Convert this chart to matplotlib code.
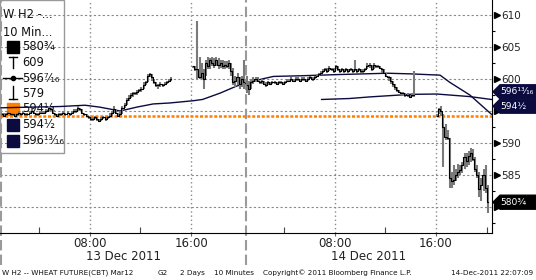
import matplotlib
matplotlib.use('Agg')
import matplotlib.pyplot as plt
import matplotlib.transforms as mtransforms
from matplotlib.patches import Rectangle, Polygon
from matplotlib.lines import Line2D

# ---------------- data ----------------
SESSION_OPEN = 1.0            # 01:00 session start (hours)
SESSION_LEN = 19 + 1 / 3.0    # 01:00 -> 20:20
BAR_H = 1 / 6.0               # 10-minute bars

def sx(day, hour):
    """session-compressed x coordinate"""
    return day * SESSION_LEN + hour - SESSION_OPEN

# segment start times (day index, clock hour)
segA_start = (0, 1 + 5 / 60)
segB_start = (0, 16 + 10 / 60)
segC_start = (1, 1 + 5 / 60)
segD_start = (1, 16 + 5 / 60)

segA_close = [594.5, 594.25, 594.5, 594.75, 594.5, 594.5, 594.25, 594.5, 594.75, 594.5,
              594.75, 594.5, 594.5, 594.75, 595, 594.75, 594.5, 594.5, 594.75, 594.75,
              594.75, 595, 595.5, 595.25, 594.75, 594.5, 594.25, 594.5, 594.5, 594.75,
              594.5, 594.75, 594.5, 594.75, 595, 595, 595.5, 595.25, 594.75, 594.5,
              594.25, 594, 593.75, 593.75, 594, 593.75, 593.5, 593.75, 594, 593.75,
              594, 594.25, 594.75, 595.25, 594.75, 594.25,
              594.5, 595.5, 596, 596.75,
              597, 597.5, 597.75, 597.75, 598,
              598.25, 598.5, 599, 599.5, 600.5,
              600.75, 600.25, 599.5, 599, 599,
              599.25, 599, 599.25, 599.5, 599.75, 600]
segA_high = [594.75, 594.75, 594.75, 595, 594.75, 594.75, 594.5, 594.75, 595, 594.75,
             595, 594.75, 594.75, 595, 595.25, 595, 594.75, 594.75, 595, 595,
             595, 595.25, 595.75, 595.5, 595.25, 594.75, 594.5, 594.75, 594.75, 595,
             594.75, 595, 594.75, 595, 595.25, 595.25, 595.75, 595.5, 595.25, 594.75,
             594.5, 594.25, 594, 594, 594.25, 594, 593.75, 594, 594.25, 594,
             594.25, 594.75, 595, 595.75, 595.25, 594.75,
             595, 595.75, 596.25, 597,
             597.5, 597.75, 598, 598, 598.25,
             598.5, 598.75, 599.5, 599.75, 600.75,
             601, 600.75, 600, 599.5, 599.25,
             599.5, 599.25, 599.5, 599.75, 600, 600.25]
segA_low = [594.25, 594, 594.25, 594.5, 594.25, 594.25, 594, 594.25, 594.5, 594.25,
            594.5, 594.25, 594.25, 594.5, 594.75, 594.5, 594.25, 594.25, 594.5, 594.5,
            594.5, 594.75, 595, 595, 594.5, 594.25, 594, 594.25, 594.25, 594.5,
            594.25, 594.5, 594.25, 594.5, 594.75, 594.75, 595, 595, 594.5, 594.25,
            594, 593.75, 593.5, 593.5, 593.75, 593.5, 593.25, 593.5, 593.75, 593.5,
            593.75, 594, 594.25, 594.75, 594.5, 594,
            594.25, 594.5, 595.5, 596,
            596.5, 597, 597.25, 597.5, 597.5,
            598, 598, 598.5, 599, 599.5,
            600.25, 599.75, 599.25, 598.75, 598.5,
            598.75, 598.75, 599, 599.25, 599.5, 599.75]

segB_close = [602, 601.5, 601.5, 600.25, 601, 600, 602.5, 602, 603, 602.5, 602.25, 603,
              602.25, 602.5, 602, 602.25, 602, 602.5, 601.25, 599.5, 599.75, 600.25,
              599.25, 600, 599.5]
segB_high = [602, 602, 609, 603.5, 602.5, 601.5, 603, 603.5, 603.25, 603.5, 603.25, 603.5,
             603.25, 603, 603, 602.75, 602.75, 603, 602.5, 601.75, 600.5, 601,
             600.25, 600.5, 603]
segB_low = [601.75, 601.25, 600, 600, 600, 598.5, 600.5, 601.5, 601.5, 602, 601.75, 602,
            601.5, 601.75, 601.5, 601.5, 601.75, 601.5, 600.5, 599, 598.75, 599,
            598.5, 598.75, 598.5]

segC_close = [599, 598.5, 599.5, 599.75,
              600, 599.75, 599.5, 599.75,
              599.25, 599, 599.5, 599.25, 599.5,
              599.5, 599.25, 599.5, 599.5, 599.25, 599.5, 599.75,
              599.75, 600, 599.75, 600, 600, 599.75, 600,
              600, 599.75, 600, 600.25, 600,
              600.25, 600.5, 600.75,
              601, 601.25, 601.5,
              601.25, 601.75, 601.5, 601.25, 602, 601.5, 601.25,
              601.5, 601.25, 601.5, 601.25, 601.5, 601.25,
              601.5,
              601.25, 601.5, 601.25, 601.25, 601.5,
              602, 602.25, 601.5, 602.25, 602,
              602, 601.75, 601.5, 601,
              600.5, 600.25, 599.75,
              599.25, 598.75, 598.25,
              598, 597.75, 597.75, 597.5,
              597.5, 597.25, 597.5, 597.5]
segC_high = [600.5, 599.75, 600, 600.25,
             600.25, 600.25, 599.75, 600,
             599.75, 599.5, 599.75, 599.5, 599.75,
             599.75, 599.5, 599.75, 599.75, 599.5, 599.75, 600,
             600, 600.25, 600, 600.25, 600.25, 600, 600.25,
             600.25, 600, 600.25, 600.5, 600.25,
             600.5, 600.75, 601,
             601.25, 601.5, 601.75,
             601.75, 602, 601.75, 601.75, 602.25, 602, 601.5,
             601.75, 601.5, 601.75, 601.5, 601.75, 601.5,
             603,
             601.5, 601.75, 601.5, 601.5, 601.75,
             602.5, 602.5, 602.25, 602.5, 602.25,
             602.25, 602, 601.75, 601.5,
             601, 600.5, 600.25,
             599.75, 599.25, 598.75,
             598.25, 598, 598, 597.75,
             597.75, 597.5, 597.75, 601.25]
segC_low = [597.75, 597.5, 598.5, 599.25,
            599.5, 599.5, 599.25, 599.25,
            599, 598.75, 599, 599, 599.25,
            599.25, 599, 599.25, 599.25, 599, 599.25, 599.5,
            599.5, 599.75, 599.5, 599.75, 599.75, 599.5, 599.75,
            599.75, 599.5, 599.75, 600, 599.75,
            600, 600.25, 600.5,
            600.75, 601, 601.25,
            601, 601.25, 601.25, 601, 601.5, 601.25, 601,
            601.25, 601, 601.25, 601, 601.25, 601,
            601.25,
            601, 601.25, 601, 601, 601.25,
            601.5, 601.75, 601.25, 601.5, 601.75,
            601.75, 601.5, 601, 600.75,
            600.25, 599.75, 599.25,
            598.75, 598.25, 598,
            597.75, 597.5, 597.5, 597.25,
            597.25, 597, 597.25, 597.25]

segD_close = [594.25, 595.25, 595, 592.5, 591, 590.75, 584.5, 584, 584.25, 585, 585.5,
              585.75, 586.5, 587.75, 587.25, 588, 588.5, 587.5, 586, 585, 582.75, 583.5,
              585, 583, 580.75]
segD_high = [594.5, 595.5, 595.75, 594.5, 593, 592, 590.75, 585.5, 586.5, 586, 586.75,
             586.5, 587, 588.5, 588.5, 588.75, 589.25, 589, 587.75, 586.5, 585.5, 584.5,
             586, 586.5, 583.5]
segD_low = [594, 594.5, 594.25, 586.25, 590.5, 590.5, 583, 583, 583.5, 584, 584.5,
            585, 585.25, 586, 586.25, 586.5, 587, 587.25, 585.5, 584.5, 581.5, 581,
            582.5, 582.25, 579]

# moving averages (session x, value)
ma1_x = [0.0, 2.29, 4.66, 6.63, 7.8, 9.4, 10.7, 12.0, 13.3, 15.15, 15.9, 17.3, 18.6,
         19.65, 20.6, 21.5, 23.6, 26.75, 30.5, 32.3, 34.65, 35.4, 37.0, 38.7]
ma1_v = [595.5, 595.6, 595.7, 595.9, 595.6, 595.0, 595.6, 596.1, 596.25, 596.6, 596.8,
         597.8, 598.9, 599.5, 600.0, 600.4, 600.5, 600.7, 600.9, 600.8, 600.6, 599.5,
         597.5, 594.5]
ma2_x = [25.3, 27.5, 29.1, 32.3, 34.4, 37.0, 38.7]
ma2_v = [596.8, 596.95, 597.2, 597.6, 597.65, 597.25, 596.8]

prev_settle = 594.25

legend_title = ["W H2 -...", "10 Min..."]
legend_vals = ["580¾", "609", "596⁷⁄₁₆", "579", "594¼", "594½", "596¹³⁄₁₆"]

last_labels = ["596¹³⁄₁₆", "594½", "580¾"]
last_label_y = [598.0, 595.75, 580.75]

xtick_pos = [sx(0, 8), sx(0, 16), sx(1, 8), sx(1, 16)]
xtick_lab = ["08:00", "16:00", "08:00", "16:00"]
xminor_pos = [sx(0, 4), sx(0, 12), sx(1, 4), sx(1, 12), sx(1, 20)]
day_labels = ["13 Dec 2011", "14 Dec 2011"]
ytick_vals = [580, 585, 590, 595, 600, 605, 610]
ytick_text = ["", "585", "590", "", "600", "605", "610"]   # 580 / 595 hidden by value boxes

footer = [("W H2 -- WHEAT FUTURE(CBT) Mar12", 2), ("G2", 158), ("2 Days", 180),
          ("10 Minutes", 214), ("Copyright© 2011 Bloomberg Finance L.P.", 263)]
footer_right = "14-Dec-2011 22:07:09"

# ---------------- figure ----------------
W, H = 536, 280
fig = plt.figure(figsize=(W / 100, H / 100), dpi=100)
AX_R, AX_B = 492, 233
ax = fig.add_axes([0, 1 - AX_B / H, AX_R / W, AX_B / H])
ax.set_xlim(sx(0, 0 + 55 / 60), sx(1, 20 + 25 / 60))
ax.set_ylim(575.94, 612.34)
ax.set_axisbelow(True)

NAVY = '#0b0b40'
GRID = '#8a8a8a'

def axp(px, py):
    return (px / AX_R, 1 - py / AX_B)

# legend box (beneath the grid and data)
ax.add_patch(Rectangle(axp(0, 153), 64 / AX_R, 153 / AX_B, transform=ax.transAxes,
                       fc='white', ec='#999999', lw=1.0, zorder=0.2, clip_on=False))
rows = [15, 32, 47, 62, 78, 93, 109, 125, 141]
for i, t in enumerate(legend_title):
    ax.text(*axp(3, rows[i]), t, transform=ax.transAxes, fontsize=8.3, va='center',
            ha='left', color='#111', zorder=0.7)
for i, t in enumerate(legend_vals):
    ax.text(*axp(22, rows[i + 2]), t, transform=ax.transAxes, fontsize=8.3,
            va='center', ha='left', color='#111', zorder=0.7)
sq = [(2, 'black'), (6, '#ff7f00'), (7, NAVY), (8, NAVY)]
for r, c in sq:
    ax.add_patch(Rectangle(axp(7, rows[r] + 6), 12 / AX_R, 12 / AX_B,
                           transform=ax.transAxes, fc=c, ec=c, zorder=0.7))
def lline(p0, p1, **kw):
    a, b = axp(*p0), axp(*p1)
    ax.add_line(Line2D([a[0], b[0]], [a[1], b[1]], transform=ax.transAxes,
                       color='black', lw=1, zorder=0.7, **kw))
lline((13, 57), (13, 68)); lline((9, 57), (17, 57))
lline((3, 78), (22, 78))
ax.plot(*axp(13, 78), marker='o', ms=3, color='black', transform=ax.transAxes, zorder=0.7)
lline((13, 86), (13, 99)); lline((9, 99), (17, 99))

# grid
ax.set_yticks(ytick_vals)
ax.yaxis.grid(True, linestyle=(0, (2, 2)), color=GRID, lw=0.8)
for xp in xtick_pos:
    ax.axvline(xp, linestyle=(0, (1, 2)), color=GRID, lw=1.0, zorder=0.5)
for d in (0, 1):
    ax.axvline(sx(d, SESSION_OPEN), ymin=-0.137, ymax=1, linestyle=(0, (5, 2)),
               color='#9a9a9a', lw=1.5, zorder=0.6, clip_on=False)

# previous settle
ax.axhline(prev_settle, color='#ff7f00', lw=1.8, linestyle=(0, (1.2, 0.7)), zorder=2)

# moving averages
ax.plot(ma1_x, ma1_v, color=NAVY, lw=1.0, zorder=2.5)
ax.plot(ma2_x, ma2_v, color=NAVY, lw=1.0, zorder=2.5)

# price bars
for start, c, h, l in [(segA_start, segA_close, segA_high, segA_low),
                       (segB_start, segB_close, segB_high, segB_low),
                       (segC_start, segC_close, segC_high, segC_low),
                       (segD_start, segD_close, segD_high, segD_low)]:
    x0 = sx(*start)
    xs = [x0 + i * BAR_H for i in range(len(c))]
    ax.vlines(xs, l, h, color='#7a7a7a', lw=1.5, zorder=3)
    ax.step(xs, c, where='mid', color='black', lw=0.8, zorder=4)

# axes styling
for s in ('left', 'top'):
    ax.spines[s].set_visible(False)
ax.spines['right'].set_color('black')
ax.spines['bottom'].set_color('black')
ax.yaxis.tick_right()
ax.set_yticklabels(ytick_text)
ax.yaxis.set_minor_locator(matplotlib.ticker.MultipleLocator(2.5))
ax.tick_params(axis='y', which='major', length=0, pad=6.5, labelsize=7.5, labelcolor='#222')
ax.tick_params(axis='y', which='minor', length=2.5, width=0.8, color='black')
trans_y = mtransforms.blended_transform_factory(ax.transAxes, ax.transData)
ax.plot([1.0105] * len(ytick_vals), ytick_vals, linestyle='none', marker='>', ms=4,
        color='black', transform=trans_y, clip_on=False, zorder=5)

ax.set_xticks(xtick_pos)
ax.set_xticklabels(xtick_lab)
ax.set_xticks(xminor_pos, minor=True)
ax.tick_params(axis='x', which='major', length=2.5, pad=0.5, labelsize=8.5,
               labelcolor='#222', color='#666', direction='out')
ax.tick_params(axis='x', which='minor', length=4, width=0.8, color='#444', direction='in')

xt = ax.get_xaxis_transform()
ax.text((sx(0, SESSION_OPEN) + sx(1, SESSION_OPEN)) / 2, -0.1, day_labels[0],
        transform=xt, ha='center', va='center', fontsize=8.5, color='#222')
ax.text((sx(1, SESSION_OPEN) + sx(1, 20 + 25 / 60)) / 2, -0.1, day_labels[1],
        transform=xt, ha='center', va='center', fontsize=8.5, color='#222')

# last-value labels: arrow-shaped boxes drawn in figure pixels
colors = [NAVY, NAVY, 'black']
for t, y, c in zip(last_labels, last_label_y, colors):
    yc = H - ax.transData.transform((0, y))[1]          # pixel row from top
    pts = [(493, yc), (500, yc - 7), (536, yc - 7), (536, yc + 7), (500, yc + 7)]
    fig.patches.append(Polygon([(px / W, 1 - py / H) for px, py in pts],
                               closed=True, transform=fig.transFigure,
                               fc=c, ec=c, zorder=6))
    fig.text(500 / W, 1 - yc / H, t, ha='left', va='center', fontsize=6.6,
             color='white', zorder=7)

# footer
for t, x in footer:
    fig.text(x / W, 1 - 273 / H, t, fontsize=5.2, va='center', ha='left', color='#111')
fig.text(533 / W, 1 - 273 / H, footer_right, fontsize=5.2, va='center', ha='right',
         color='#111')

fig.savefig('out.png', dpi=100, facecolor='white')
